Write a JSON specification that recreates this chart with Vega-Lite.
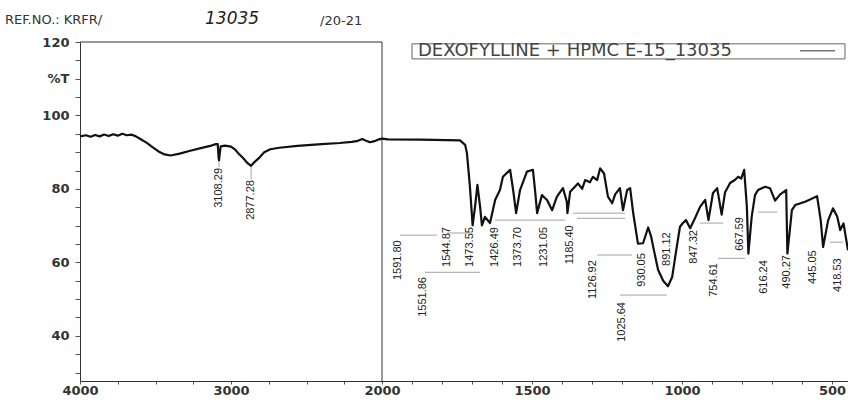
{
  "$schema": "https://vega.github.io/schema/vega-lite/v6.json",
  "width": 768,
  "height": 339,
  "autosize": {"type": "none"},
  "padding": {"left": 80, "top": 42, "right": 0, "bottom": 19},
  "background": "white",
  "config": {"view": {"stroke": null}},
  "datasets": {
    "spectrum": [
      {"wn": 4000, "v": 94.3}, {"wn": 3960, "v": 94.6}, {"wn": 3930, "v": 94.2}, {"wn": 3900, "v": 94.7},
      {"wn": 3870, "v": 94.3}, {"wn": 3840, "v": 94.8}, {"wn": 3810, "v": 94.4}, {"wn": 3780, "v": 94.9},
      {"wn": 3750, "v": 94.5}, {"wn": 3720, "v": 95.0}, {"wn": 3690, "v": 94.6}, {"wn": 3660, "v": 94.8},
      {"wn": 3630, "v": 94.3}, {"wn": 3600, "v": 93.6}, {"wn": 3560, "v": 92.6}, {"wn": 3520, "v": 91.4},
      {"wn": 3480, "v": 90.2}, {"wn": 3440, "v": 89.4}, {"wn": 3400, "v": 89.1}, {"wn": 3340, "v": 89.6},
      {"wn": 3270, "v": 90.4}, {"wn": 3200, "v": 91.1}, {"wn": 3130, "v": 91.8}, {"wn": 3100, "v": 92.2},
      {"wn": 3088, "v": 92.2}, {"wn": 3082, "v": 88.5}, {"wn": 3079, "v": 87.8}, {"wn": 3075, "v": 89.5},
      {"wn": 3068, "v": 91.6}, {"wn": 3040, "v": 91.8}, {"wn": 3000, "v": 91.5}, {"wn": 2970, "v": 90.6},
      {"wn": 2950, "v": 89.6}, {"wn": 2920, "v": 88.4}, {"wn": 2890, "v": 87.0}, {"wn": 2867, "v": 86.3},
      {"wn": 2845, "v": 87.3}, {"wn": 2810, "v": 88.6}, {"wn": 2780, "v": 90.0}, {"wn": 2740, "v": 90.8},
      {"wn": 2680, "v": 91.2}, {"wn": 2560, "v": 91.7}, {"wn": 2400, "v": 92.2}, {"wn": 2280, "v": 92.5},
      {"wn": 2200, "v": 92.8}, {"wn": 2160, "v": 93.1}, {"wn": 2130, "v": 93.6}, {"wn": 2110, "v": 93.2},
      {"wn": 2080, "v": 92.7}, {"wn": 2050, "v": 93.0}, {"wn": 2020, "v": 93.5}, {"wn": 2000, "v": 93.7},
      {"wn": 1980, "v": 93.5}, {"wn": 1873, "v": 93.4}, {"wn": 1740, "v": 93.2}, {"wn": 1723, "v": 92.0},
      {"wn": 1717, "v": 89.8}, {"wn": 1707, "v": 80.6}, {"wn": 1698, "v": 70.1}, {"wn": 1690, "v": 75.1},
      {"wn": 1682, "v": 81.1}, {"wn": 1673, "v": 75.1}, {"wn": 1667, "v": 70.1}, {"wn": 1657, "v": 72.4},
      {"wn": 1640, "v": 70.7}, {"wn": 1623, "v": 77.0}, {"wn": 1607, "v": 79.7}, {"wn": 1597, "v": 83.3},
      {"wn": 1573, "v": 85.2}, {"wn": 1563, "v": 79.7}, {"wn": 1553, "v": 73.4}, {"wn": 1540, "v": 79.7},
      {"wn": 1517, "v": 84.7}, {"wn": 1497, "v": 85.2}, {"wn": 1490, "v": 79.7}, {"wn": 1483, "v": 73.4},
      {"wn": 1467, "v": 78.3}, {"wn": 1450, "v": 77.0}, {"wn": 1433, "v": 74.2}, {"wn": 1417, "v": 77.9},
      {"wn": 1397, "v": 80.2}, {"wn": 1384, "v": 76.5}, {"wn": 1382, "v": 73.4}, {"wn": 1373, "v": 79.2},
      {"wn": 1357, "v": 80.6}, {"wn": 1347, "v": 81.5}, {"wn": 1333, "v": 80.0}, {"wn": 1323, "v": 82.4},
      {"wn": 1307, "v": 81.8}, {"wn": 1297, "v": 83.3}, {"wn": 1283, "v": 82.4}, {"wn": 1273, "v": 85.6},
      {"wn": 1260, "v": 84.2}, {"wn": 1247, "v": 77.9}, {"wn": 1233, "v": 76.1}, {"wn": 1223, "v": 78.5},
      {"wn": 1207, "v": 80.2}, {"wn": 1197, "v": 74.2}, {"wn": 1183, "v": 79.7}, {"wn": 1173, "v": 80.2},
      {"wn": 1163, "v": 73.5}, {"wn": 1147, "v": 65.1}, {"wn": 1130, "v": 65.2}, {"wn": 1113, "v": 69.5},
      {"wn": 1103, "v": 67.0}, {"wn": 1093, "v": 63.0}, {"wn": 1080, "v": 58.0}, {"wn": 1063, "v": 55.0},
      {"wn": 1047, "v": 53.5}, {"wn": 1033, "v": 56.0}, {"wn": 1020, "v": 63.0}, {"wn": 1007, "v": 69.7},
      {"wn": 997, "v": 70.7}, {"wn": 987, "v": 71.5}, {"wn": 973, "v": 69.3}, {"wn": 957, "v": 72.0},
      {"wn": 940, "v": 75.1}, {"wn": 923, "v": 77.0}, {"wn": 912, "v": 71.5}, {"wn": 897, "v": 78.9},
      {"wn": 883, "v": 80.2}, {"wn": 868, "v": 73.0}, {"wn": 857, "v": 79.0}, {"wn": 840, "v": 81.6},
      {"wn": 823, "v": 82.5}, {"wn": 813, "v": 83.3}, {"wn": 803, "v": 82.8}, {"wn": 793, "v": 85.2},
      {"wn": 784, "v": 75.1}, {"wn": 779, "v": 62.4}, {"wn": 768, "v": 72.4}, {"wn": 757, "v": 78.3},
      {"wn": 747, "v": 79.7}, {"wn": 723, "v": 80.6}, {"wn": 707, "v": 80.2}, {"wn": 690, "v": 76.8},
      {"wn": 673, "v": 78.5}, {"wn": 653, "v": 79.7}, {"wn": 649, "v": 62.4}, {"wn": 634, "v": 74.2},
      {"wn": 623, "v": 75.6}, {"wn": 590, "v": 76.5}, {"wn": 550, "v": 78.0}, {"wn": 538, "v": 71.5},
      {"wn": 530, "v": 64.2}, {"wn": 513, "v": 71.5}, {"wn": 497, "v": 74.7}, {"wn": 483, "v": 72.5},
      {"wn": 473, "v": 68.8}, {"wn": 462, "v": 70.6}, {"wn": 447, "v": 63.3}
    ],
    "peaks": [
      {"wn": 3079, "v": 85.7, "text": "3108.29"},
      {"wn": 2867, "v": 82.4, "text": "2877.28"},
      {"wn": 1947, "v": 66.0, "text": "1591.80"},
      {"wn": 1863, "v": 56.0, "text": "1551.86"},
      {"wn": 1783, "v": 69.6, "text": "1544.87"},
      {"wn": 1707, "v": 69.6, "text": "1473.55"},
      {"wn": 1623, "v": 69.6, "text": "1426.49"},
      {"wn": 1547, "v": 69.6, "text": "1373.70"},
      {"wn": 1460, "v": 69.6, "text": "1231.05"},
      {"wn": 1373, "v": 70.1, "text": "1185.40"},
      {"wn": 1297, "v": 60.6, "text": "1126.92"},
      {"wn": 1200, "v": 49.2, "text": "1025.64"},
      {"wn": 1133, "v": 62.5, "text": "930.05"},
      {"wn": 1050, "v": 68.2, "text": "891.12"},
      {"wn": 960, "v": 68.8, "text": "847.32"},
      {"wn": 893, "v": 59.8, "text": "754.61"},
      {"wn": 807, "v": 72.3, "text": "667.59"},
      {"wn": 727, "v": 60.6, "text": "616.24"},
      {"wn": 650, "v": 62.0, "text": "490.27"},
      {"wn": 563, "v": 63.3, "text": "445.05"},
      {"wn": 480, "v": 61.1, "text": "418.53"}
    ],
    "leaders": [
      {"wn": 3079, "wn2": 3079, "v": 87.8, "v2": 85.9},
      {"wn": 2867, "wn2": 2867, "v": 86.3, "v2": 82.6},
      {"wn": 1940, "wn2": 1817, "v": 67.4, "v2": 67.4},
      {"wn": 1857, "wn2": 1673, "v": 57.3, "v2": 57.3},
      {"wn": 1783, "wn2": 1707, "v": 68.0, "v2": 68.0},
      {"wn": 1623, "wn2": 1390, "v": 71.5, "v2": 71.5},
      {"wn": 1363, "wn2": 1190, "v": 73.4, "v2": 73.4},
      {"wn": 1350, "wn2": 1190, "v": 72.0, "v2": 72.0},
      {"wn": 1283, "wn2": 1167, "v": 62.0, "v2": 62.0},
      {"wn": 1207, "wn2": 1050, "v": 51.1, "v2": 51.1},
      {"wn": 940, "wn2": 863, "v": 70.7, "v2": 70.7},
      {"wn": 880, "wn2": 790, "v": 61.1, "v2": 61.1},
      {"wn": 747, "wn2": 683, "v": 73.7, "v2": 73.7},
      {"wn": 507, "wn2": 463, "v": 65.5, "v2": 65.5}
    ],
    "frame": [
      {"wn": 4000, "wn2": 2000, "v": 120, "v2": 120},
      {"wn": 2000, "wn2": 2000, "v": 27.7, "v2": 120},
      {"wn": 607, "wn2": 490, "v": 117.6, "v2": 117.6}
    ],
    "legendbox": [
      {"wn": 1900, "wn2": 457, "v": 119.5, "v2": 115.4}
    ],
    "notes": [
      {"wn": 4497, "v": 126.0, "text": "REF.NO.:  KRFR/"},
      {"wn": 2410, "v": 125.7, "text": "/20-21"}
    ],
    "legendtext": [
      {"wn": 1880, "v": 117.6, "text": "DEXOFYLLINE + HPMC E-15_13035"}
    ],
    "handwritten": [
      {"wn": 3172, "v": 126.3, "text": "13035"}
    ]
  },
  "encoding": {
    "x": {
      "field": "wn",
      "type": "quantitative",
      "scale": {"domain": [4000, 2000, 447], "range": [0, 302, 768], "nice": false, "zero": false},
      "axis": {
        "title": null,
        "values": [4000, 3750, 3500, 3250, 3000, 2750, 2500, 2250, 2000, 1900, 1800, 1700, 1600, 1500, 1400, 1300, 1200, 1100, 1000, 900, 800, 700, 600, 500],
        "format": "d",
        "labelExpr": "(datum.value >= 2000 ? datum.value % 1000 == 0 : datum.value % 500 == 0) ? datum.label : ''",
        "labelOverlap": false,
        "labelFlush": false,
        "labelFont": "DejaVu Sans",
        "labelFontWeight": "bold",
        "labelFontSize": 13,
        "labelColor": "#333333",
        "labelPadding": 0,
        "tickSize": 3,
        "tickColor": "#555555",
        "domainColor": "#333333",
        "grid": false
      }
    },
    "y": {
      "field": "v",
      "type": "quantitative",
      "scale": {"domain": [27.7, 120], "nice": false, "zero": false},
      "axis": {
        "title": null,
        "values": [30, 35, 40, 45, 50, 55, 60, 65, 70, 75, 80, 85, 90, 95, 100, 105, 110, 115, 120],
        "format": "d",
        "labelExpr": "datum.value % 20 == 0 ? datum.label : (datum.value == 110 ? '%T' : '')",
        "labelOverlap": false,
        "labelFlush": false,
        "labelFont": "DejaVu Sans",
        "labelFontWeight": "bold",
        "labelFontSize": 13,
        "labelColor": "#333333",
        "labelPadding": 6,
        "tickSize": 5,
        "tickColor": "#555555",
        "domainColor": "#333333",
        "grid": false
      }
    }
  },
  "layer": [
    {
      "data": {"name": "legendbox"},
      "mark": {"type": "rect", "fill": null, "stroke": "#666666", "strokeWidth": 1},
      "encoding": {"x2": {"field": "wn2"}, "y2": {"field": "v2"}}
    },
    {
      "data": {"name": "frame"},
      "mark": {"type": "rule", "color": "#333333", "strokeWidth": 1},
      "encoding": {"x2": {"field": "wn2"}, "y2": {"field": "v2"}}
    },
    {
      "data": {"name": "leaders"},
      "mark": {"type": "rule", "color": "#8a8a8a", "strokeWidth": 0.8},
      "encoding": {"x2": {"field": "wn2"}, "y2": {"field": "v2"}}
    },
    {
      "data": {"name": "spectrum"},
      "mark": {"type": "line", "color": "#111111", "strokeWidth": 2.2, "strokeJoin": "round"},
      "encoding": {}
    },
    {
      "data": {"name": "peaks"},
      "mark": {"type": "text", "angle": 270, "align": "right", "baseline": "middle", "font": "Liberation Sans", "fontSize": 11, "color": "#222222"},
      "encoding": {"text": {"field": "text"}}
    },
    {
      "data": {"name": "notes"},
      "mark": {"type": "text", "align": "left", "baseline": "middle", "font": "DejaVu Sans", "fontSize": 13, "color": "#333333"},
      "encoding": {"text": {"field": "text"}}
    },
    {
      "data": {"name": "legendtext"},
      "mark": {"type": "text", "align": "left", "baseline": "middle", "font": "DejaVu Sans", "fontSize": 18, "color": "#444444"},
      "encoding": {"text": {"field": "text"}}
    },
    {
      "data": {"name": "handwritten"},
      "mark": {"type": "text", "align": "left", "baseline": "middle", "font": "DejaVu Sans", "fontStyle": "italic", "fontSize": 17, "color": "#222222"},
      "encoding": {"text": {"field": "text"}}
    }
  ]
}
